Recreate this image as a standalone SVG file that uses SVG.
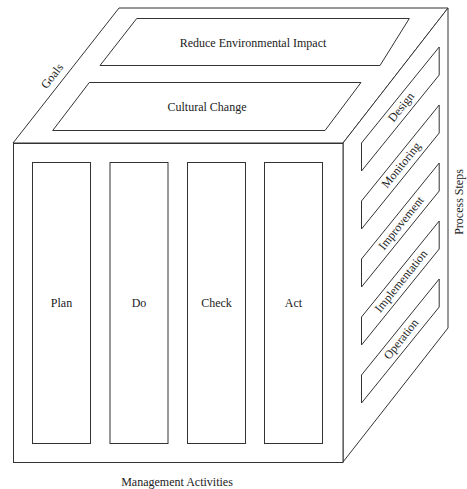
<svg xmlns="http://www.w3.org/2000/svg" width="467" height="489" viewBox="0 0 467 489">
<style>
.s{fill:#fff;stroke:#333;stroke-width:1}
.t{font-family:'Liberation Serif','DejaVu Serif',serif;font-size:12px;fill:#222;text-anchor:middle;dominant-baseline:central}
</style>
<rect width="467" height="489" fill="#fff"/>
<g id="cube">
<polygon id="top-face" class="s" points="13,143 119,8 448,8 343,143"/>
<polygon id="right-face" class="s" points="343,143 448,8 448,328 343,462"/>
<rect id="front-face" class="s" x="13.5" y="143.5" width="329.5" height="319"/>
</g>
<g id="goals-label"><text class="t" font-family="Liberation Serif, serif" transform="translate(52,76) rotate(-52)">Goals</text></g>
<g id="reduce-environmental-impact">
<polygon class="s" points="136.7,18.5 409.3,18.5 380,65.5 100,65.5"/>
<text class="t" font-family="Liberation Serif, serif" x="253" y="43">Reduce Environmental Impact</text>
</g>
<g id="cultural-change">
<polygon class="s" points="89.3,82.5 361,82.5 325,130.5 52.7,130.5"/>
<text class="t" font-family="Liberation Serif, serif" x="207" y="107">Cultural Change</text>
</g>
<g id="plan"><rect class="s" x="32.5" y="162.5" width="58" height="281"/><text class="t" font-family="Liberation Serif, serif" x="61.5" y="303">Plan</text></g>
<g id="do"><rect class="s" x="110" y="162.5" width="58" height="281"/><text class="t" font-family="Liberation Serif, serif" x="139" y="303">Do</text></g>
<g id="check"><rect class="s" x="187.5" y="162.5" width="58" height="281"/><text class="t" font-family="Liberation Serif, serif" x="216.5" y="303">Check</text></g>
<g id="act"><rect class="s" x="264.5" y="162.5" width="58" height="281"/><text class="t" font-family="Liberation Serif, serif" x="293.5" y="303">Act</text></g>
<g id="design"><polygon class="s" points="361.5,143 439.2,47 439.2,75 361.5,171"/><text class="t" font-family="Liberation Serif, serif" transform="translate(401,107) rotate(-51.3)">Design</text></g>
<g id="monitoring"><polygon class="s" points="361.5,201 439.2,105 439.2,133 361.5,229"/><text class="t" font-family="Liberation Serif, serif" transform="translate(401,165) rotate(-51.3)">Monitoring</text></g>
<g id="improvement"><polygon class="s" points="361.5,259 439.2,163 439.2,191 361.5,287"/><text class="t" font-family="Liberation Serif, serif" transform="translate(401,223) rotate(-51.3)">Improvement</text></g>
<g id="implementation"><polygon class="s" points="361.5,317 439.2,221 439.2,249 361.5,345"/><text class="t" font-family="Liberation Serif, serif" transform="translate(401,281) rotate(-51.3)">Implementation</text></g>
<g id="operation"><polygon class="s" points="361.5,375 439.2,279 439.2,307 361.5,403"/><text class="t" font-family="Liberation Serif, serif" transform="translate(401,339) rotate(-51.3)">Operation</text></g>
<g id="process-steps-label"><text class="t" font-family="Liberation Serif, serif" transform="translate(459,202) rotate(-90)">Process Steps</text></g>
<g id="management-activities-label"><text class="t" font-family="Liberation Serif, serif" x="177" y="482">Management Activities</text></g>
</svg>
